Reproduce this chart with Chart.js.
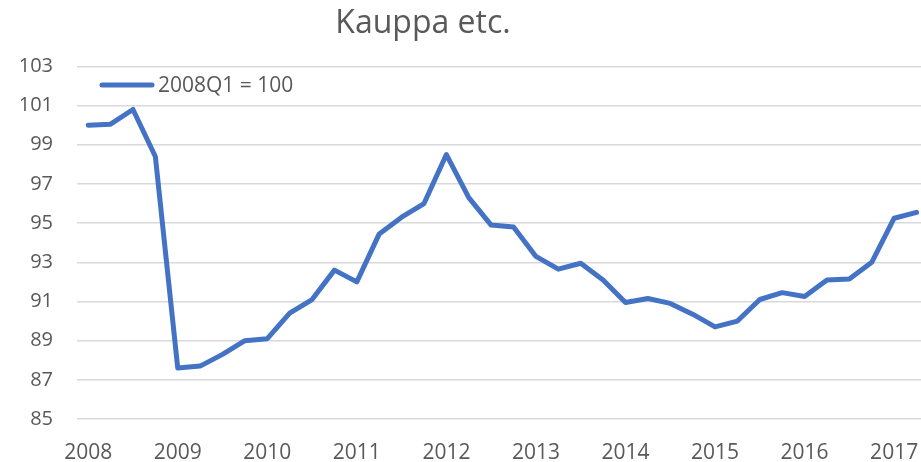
<!DOCTYPE html>
<html>
<head>
<meta charset="utf-8">
<title>Kauppa etc.</title>
<script src="https://cdn.jsdelivr.net/npm/chart.js@4.4.1/dist/chart.umd.min.js"></script>
<style>
  html, body { margin: 0; padding: 0; background: #fff; }
  #wrap { width: 921px; height: 462px; }
</style>
</head>
<body>
<div id="wrap"><canvas id="chart" width="921" height="462"></canvas></div>
<script>
// quarterly index, 2008Q1 .. 2017Q2
const quarters = [
    '2008Q1', '2008Q2', '2008Q3', '2008Q4',
    '2009Q1', '2009Q2', '2009Q3', '2009Q4',
    '2010Q1', '2010Q2', '2010Q3', '2010Q4',
    '2011Q1', '2011Q2', '2011Q3', '2011Q4',
    '2012Q1', '2012Q2', '2012Q3', '2012Q4',
    '2013Q1', '2013Q2', '2013Q3', '2013Q4',
    '2014Q1', '2014Q2', '2014Q3', '2014Q4',
    '2015Q1', '2015Q2', '2015Q3', '2015Q4',
    '2016Q1', '2016Q2', '2016Q3', '2016Q4',
    '2017Q1', '2017Q2'
];
const indexValues = [
    100.0, 100.05, 100.8, 98.4,
    87.6, 87.7, 88.3, 89.0,
    89.1, 90.4, 91.1, 92.6,
    92.0, 94.45, 95.3, 96.0,
    98.5, 96.3, 94.9, 94.8,
    93.3, 92.65, 92.95, 92.1,
    90.95, 91.15, 90.9, 90.35,
    89.7, 90.0, 91.1, 91.45,
    91.25, 92.1, 92.15, 93.0,
    95.25, 95.55
];
const yearLabels = ['2008', '2009', '2010', '2011', '2012', '2013', '2014', '2015', '2016', '2017'];
const yTicks = [85, 87, 89, 91, 93, 95, 97, 99, 101, 103];
const seriesLabel = '2008Q1 = 100';
const chartTitle = 'Kauppa etc.';

const textColor = '#595959';
const lineColor = '#4472C4';
const gridColor = '#d9d9d9';
const fontFamily = '"Open Sans", "Liberation Sans", sans-serif';

// title in the reference is centred a bit left of the canvas middle
const titleShift = {
    id: 'titleShift',
    afterLayout: function (chart) {
        if (chart.titleBlock) chart.titleBlock.right = 846;
    }
};

// legend sits inside the plot, top-left
const insideLegend = {
    id: 'insideLegend',
    afterDraw: function (chart) {
        const ctx = chart.ctx;
        const ds = chart.data.datasets[0];
        const y = 85;
        ctx.save();
        ctx.strokeStyle = ds.borderColor;
        ctx.lineWidth = ds.borderWidth;
        ctx.lineCap = 'round';
        ctx.beginPath();
        ctx.moveTo(102, y);
        ctx.lineTo(152, y);
        ctx.stroke();
        ctx.fillStyle = textColor;
        ctx.font = '21px ' + fontFamily;
        ctx.textBaseline = 'middle';
        ctx.textAlign = 'left';
        ctx.fillText(ds.label, 158, y + 1);
        ctx.restore();
    }
};

new Chart(document.getElementById('chart'), {
    type: 'line',
    data: {
        datasets: [{
            label: seriesLabel,
            data: indexValues.map(function (v, i) { return { x: i, y: v }; }),
            borderColor: lineColor,
            backgroundColor: lineColor,
            borderWidth: 5,
            borderCapStyle: 'round',
            borderJoinStyle: 'round',
            pointRadius: 0,
            tension: 0
        }]
    },
    options: {
        responsive: false,
        animation: false,
        layout: { padding: { left: 0, right: 0, top: 0, bottom: 0 } },
        plugins: {
            legend: { display: false },
            tooltip: { enabled: false },
            title: {
                display: true,
                text: chartTitle,
                color: textColor,
                font: { family: fontFamily, size: 32, weight: 'normal' },
                padding: { top: 5, bottom: 23 }
            }
        },
        scales: {
            x: {
                type: 'linear',
                min: -0.5,
                max: 37.2,
                grid: { display: false },
                border: { display: false },
                afterBuildTicks: function (scale) {
                    scale.ticks = yearLabels.map(function (_, i) { return { value: i * 4 }; });
                },
                afterFit: function (scale) {
                    scale.height = 43;
                    scale.paddingLeft = 0;
                    scale.paddingRight = 0;
                },
                ticks: {
                    color: textColor,
                    font: { family: fontFamily, size: 21 },
                    padding: 13,
                    maxRotation: 0,
                    autoSkip: false,
                    callback: function (value) { return yearLabels[Math.round(value / 4)]; }
                }
            },
            y: {
                min: 85,
                max: 103,
                grid: { color: gridColor, lineWidth: 1.5, drawTicks: false },
                border: { display: false },
                afterBuildTicks: function (scale) {
                    scale.ticks = yTicks.map(function (v) { return { value: v }; });
                },
                afterFit: function (scale) {
                    scale.width = 77;
                    scale.paddingTop = 0;
                    scale.paddingBottom = 0;
                },
                ticks: {
                    color: textColor,
                    font: { family: fontFamily, size: 20 },
                    padding: 24
                }
            }
        }
    },
    plugins: [titleShift, insideLegend]
});
</script>
</body>
</html>
